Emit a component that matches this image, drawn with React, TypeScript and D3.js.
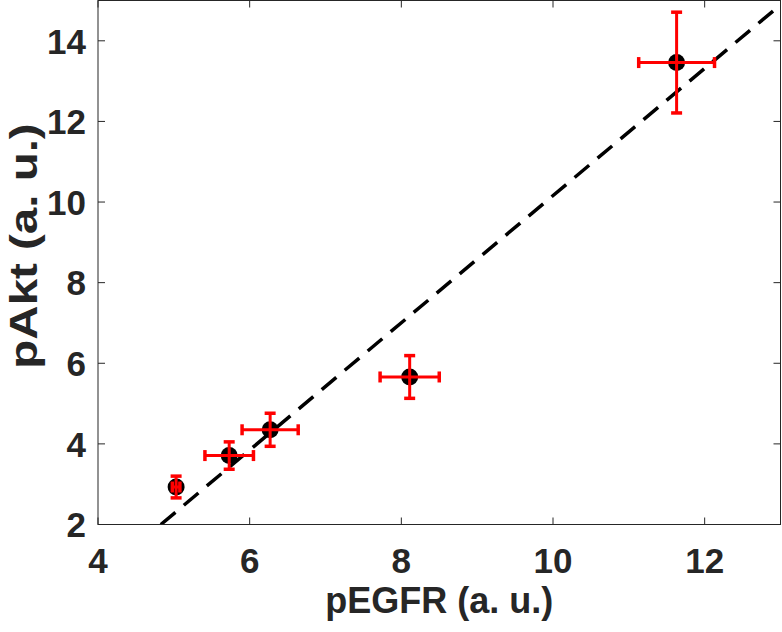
import React from "react";
import * as d3 from "d3";

const pEGFR = [5.03, 5.73, 6.27, 8.11, 11.63];
const pAkt = [2.93, 3.71, 4.35, 5.66, 13.46];
const pEGFRErr = [0.05, 0.32, 0.37, 0.39, 0.5];
const pAktErr = [0.27, 0.34, 0.41, 0.53, 1.25];
const xTicks = [4, 6, 8, 10, 12];
const yTicks = [2, 4, 6, 8, 10, 12, 14];
const fitSlope = 1.578;
const fitIntercept = -5.62;

const W = 782;
const H = 632;
const M = { left: 98, right: 1.5, top: 0.5, bottom: 107.5 };

export default function App() {
  const x = d3.scaleLinear().domain([4, 13]).range([M.left, W - M.right]);
  const y = d3.scaleLinear().domain([2, 15]).range([H - M.bottom, M.top]);
  const axisColor = "#262626";
  const font = "'Liberation Sans', Arial, Helvetica, sans-serif";
  const x0 = (2 - fitIntercept) / fitSlope;
  const x1 = 13;
  const line = d3.line<[number, number]>().x((d) => x(d[0])).y((d) => y(d[1]));
  const fitPts: [number, number][] = [
    [x0, fitSlope * x0 + fitIntercept],
    [x1, fitSlope * x1 + fitIntercept],
  ];
  const cap = 5.5;
  const red = "#ff0000";
  return (
    <svg width={W} height={H} style={{ position: "absolute", left: 0, top: 0, background: "#fff" }}>
      <defs>
        <clipPath id="plotclip">
          <rect x={x(4)} y={y(15)} width={x(13) - x(4)} height={y(2) - y(15)} />
        </clipPath>
      </defs>
      <rect x={0} y={0} width={W} height={H} fill="#fff" />
      {xTicks.map((t) => (
        <g key={"xt" + t}>
          <line x1={x(t)} x2={x(t)} y1={y(2)} y2={y(2) - 7} stroke={axisColor} strokeWidth={1} />
          <line x1={x(t)} x2={x(t)} y1={y(15)} y2={y(15) + 7} stroke={axisColor} strokeWidth={1} />
          <text x={x(t)} y={572.5} textAnchor="middle" fontFamily={font} fontWeight="bold" fontSize={35} fill={axisColor}>
            {t}
          </text>
        </g>
      ))}
      {yTicks.map((t) => (
        <g key={"yt" + t}>
          <line x1={x(4)} x2={x(4) + 7} y1={y(t)} y2={y(t)} stroke={axisColor} strokeWidth={1} />
          <line x1={x(13)} x2={x(13) - 7} y1={y(t)} y2={y(t)} stroke={axisColor} strokeWidth={1} />
          <text x={86} y={y(t) + 12.8} textAnchor="end" fontFamily={font} fontWeight="bold" fontSize={35} fill={axisColor}>
            {t}
          </text>
        </g>
      ))}
      <g clipPath="url(#plotclip)">
        <path d={line(fitPts) || ""} fill="none" stroke="#000" strokeWidth={3.5} strokeDasharray="19,11" />
      </g>
      {pEGFR.map((v, i) => (
        <circle key={"c" + i} cx={x(v)} cy={y(pAkt[i])} r={8.5} fill="#000" />
      ))}
      {pEGFR.map((v, i) => {
        const cx = x(v);
        const cy = y(pAkt[i]);
        const yt = y(pAkt[i] + pAktErr[i]);
        const yb = y(pAkt[i] - pAktErr[i]);
        const xl = x(v - pEGFRErr[i]);
        const xr = x(v + pEGFRErr[i]);
        return (
          <g key={"e" + i} stroke={red} strokeWidth={3}>
            <line x1={cx} x2={cx} y1={yt} y2={yb} />
            <line x1={cx - cap} x2={cx + cap} y1={yt} y2={yt} strokeWidth={3.5} />
            <line x1={cx - cap} x2={cx + cap} y1={yb} y2={yb} strokeWidth={3.5} />
            <line x1={xl} x2={xr} y1={cy} y2={cy} />
            <line x1={xl} x2={xl} y1={cy - cap} y2={cy + cap} strokeWidth={3.5} />
            <line x1={xr} x2={xr} y1={cy - cap} y2={cy + cap} strokeWidth={3.5} />
          </g>
        );
      })}
      <rect x={x(4)} y={y(15)} width={x(13) - x(4)} height={y(2) - y(15)} fill="none" stroke={axisColor} strokeWidth={1} />
      <text x={(x(4) + x(13)) / 2} y={613} textAnchor="middle" fontFamily={font} fontWeight="bold" fontSize={36} fill={axisColor}>
        pEGFR (a. u.)
      </text>
      <text
        transform={`translate(37, 246) rotate(-90) scale(1.25, 1)`}
        textAnchor="middle"
        fontFamily={font}
        fontWeight="bold"
        fontSize={38}
        fill={axisColor}
      >
        pAkt (a. u.)
      </text>
    </svg>
  );
}
